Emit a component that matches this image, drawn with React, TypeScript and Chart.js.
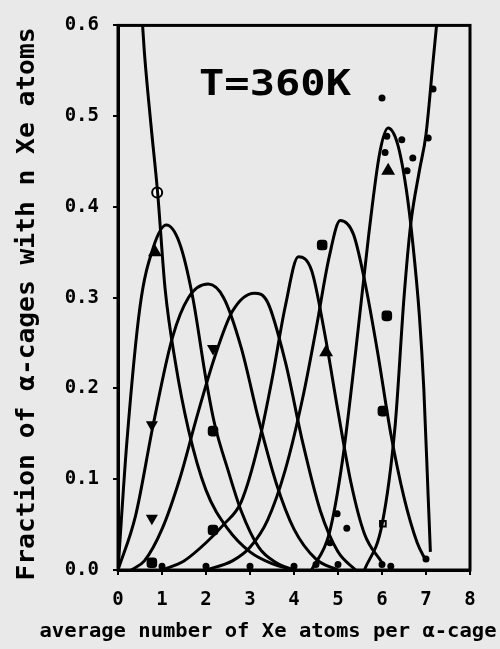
import React, { useEffect, useRef } from "react";
import { Chart, registerables } from "chart.js";
Chart.register(...registerables);

// ---- data ----
const titleText = "T=360K";
const yTitle = "Fraction of \u03b1-cages with n Xe atoms";
const xTitle = "average number of Xe atoms per \u03b1-cage";
const xTicks = [0, 1, 2, 3, 4, 5, 6, 7, 8];
const yTicks = [0.0, 0.1, 0.2, 0.3, 0.4, 0.5, 0.6];

const n0X = [0.45, 0.6, 0.75, 0.9, 1.07, 1.3, 1.6, 2.0, 2.5, 3.0, 3.5, 4.0];
const n0Y = [0.68, 0.57, 0.49, 0.416, 0.31, 0.23, 0.155, 0.088, 0.045, 0.02, 0.007, 0.0];
const n1X = [0, 0.2, 0.5, 0.8, 1.1, 1.4, 1.7, 2.0, 2.2, 2.5, 2.8, 3.2, 3.6, 4.0];
const n1Y = [0, 0.14, 0.29, 0.355, 0.38, 0.36, 0.3, 0.21, 0.16, 0.11, 0.065, 0.025, 0.008, 0];
const n2X = [0, 0.4, 0.8, 1.23, 1.6, 2.05, 2.4, 2.8, 3.2, 3.6, 4.0, 4.5, 5.0];
const n2Y = [0, 0.06, 0.16, 0.255, 0.3, 0.315, 0.3, 0.245, 0.165, 0.095, 0.045, 0.012, 0];
const n3X = [0.3, 0.6, 1.0, 1.4, 1.8, 2.2, 2.6, 3.1, 3.4, 3.8, 4.2, 4.6, 5.0, 5.4];
const n3Y = [0, 0.01, 0.045, 0.1, 0.17, 0.235, 0.285, 0.305, 0.295, 0.23, 0.14, 0.065, 0.02, 0];
const n4X = [1.0, 1.5, 2.0, 2.4, 2.8, 3.2, 3.5, 3.8, 4.1, 4.4, 4.7, 5.0, 5.3, 5.6, 6.0];
const n4Y = [0, 0.01, 0.03, 0.05, 0.075, 0.14, 0.21, 0.29, 0.345, 0.33, 0.26, 0.175, 0.095, 0.04, 0.008];
const n5X = [2.0, 2.6, 3.0, 3.4, 3.8, 4.2, 4.5, 4.8, 5.05, 5.35, 5.6, 5.9, 6.2, 6.5, 6.8, 7.0];
const n5Y = [0, 0.01, 0.025, 0.055, 0.11, 0.19, 0.265, 0.345, 0.385, 0.37, 0.32, 0.24, 0.15, 0.08, 0.03, 0.01];
const n6X = [4.4, 4.8, 5.1, 5.4, 5.7, 5.95, 6.14, 6.35, 6.55, 6.7, 6.85, 6.95, 7.05, 7.1];
const n6Y = [0, 0.04, 0.12, 0.24, 0.37, 0.46, 0.487, 0.47, 0.42, 0.36, 0.28, 0.2, 0.08, 0.02];
const n7X = [5.6, 6.0, 6.3, 6.5, 6.65, 6.85, 7.0, 7.16, 7.3];
const n7Y = [0, 0.05, 0.16, 0.3, 0.38, 0.44, 0.48, 0.56, 0.63];

const openCircleX = [0.89];
const openCircleY = [0.416];
const triX = [0.84, 6.14, 4.73];
const triY = [0.35, 0.44, 0.24];
const invTriX = [0.77, 2.16, 0.77];
const invTriY = [0.16, 0.244, 0.057];
const blobX = [2.16, 4.64, 6.11, 6.02, 2.16, 0.77];
const blobY = [0.153, 0.358, 0.28, 0.175, 0.044, 0.008];
const openSquareX = [6.02];
const openSquareY = [0.051];
const dotX = [6.0, 6.11, 6.45, 6.07, 6.7, 6.57, 7.16, 7.05, 5.2, 4.98, 4.82, 1.0, 2.0, 3.0, 4.0, 4.5, 5.0, 6.0, 6.2, 7.0];
const dotY = [0.52, 0.478, 0.474, 0.46, 0.454, 0.44, 0.53, 0.476, 0.046, 0.062, 0.03, 0.004, 0.004, 0.004, 0.004, 0.006, 0.006, 0.006, 0.004, 0.012];

const zip = (xs: number[], ys: number[]) => xs.map((x, i) => ({ x, y: ys[i] }));

const curves = [
  [n0X, n0Y], [n1X, n1Y], [n2X, n2Y], [n3X, n3Y],
  [n4X, n4Y], [n5X, n5Y], [n6X, n6Y], [n7X, n7Y],
];

const FONT = '"DejaVu Sans Mono", monospace';

const decorPlugin = {
  id: "decor",
  afterDraw(chart: any) {
    const { ctx, chartArea: a } = chart;
    ctx.save();
    ctx.strokeStyle = "#000";
    ctx.lineWidth = 3;
    ctx.strokeRect(a.left, a.top, a.right - a.left, a.bottom - a.top);

    const fitText = (text: string, font: string, cx: number, cy: number, w: number, rot: number) => {
      ctx.save();
      ctx.font = font;
      ctx.fillStyle = "#000";
      ctx.textAlign = "center";
      ctx.textBaseline = "middle";
      const m = ctx.measureText(text).width;
      ctx.translate(cx, cy);
      ctx.rotate(rot);
      ctx.scale(w / m, 1);
      ctx.fillText(text, 0, 0);
      ctx.restore();
    };
    fitText(titleText, `bold 35px ${FONT}`, 275, 86, 152, 0);
    fitText(yTitle, `bold 24px ${FONT}`, 28, 304, 553, -Math.PI / 2);
    fitText(xTitle, `bold 20px ${FONT}`, 268, 632, 457, 0);
    ctx.restore();
  },
};

export default function App() {
  const ref = useRef<HTMLCanvasElement | null>(null);
  useEffect(() => {
    document.body.style.margin = "0";
    const lineSets = curves.map(([xs, ys], i) => ({
      type: "line" as const,
      label: `n=${i}`,
      data: zip(xs, ys),
      borderColor: "#000",
      borderWidth: 3,
      pointRadius: 0,
      fill: false,
      cubicInterpolationMode: "monotone" as const,
    }));
    const mk = (label: string, xs: number[], ys: number[], style: string, r: number, filled: boolean, rot = 0) => ({
      type: "scatter" as const,
      label,
      data: zip(xs, ys),
      pointStyle: style,
      pointRadius: r,
      rotation: rot,
      borderColor: "#000",
      borderWidth: 2,
      backgroundColor: filled ? "#000" : "#fff",
    });
    const chart = new Chart(ref.current!, {
      type: "line",
      data: {
        datasets: [
          ...lineSets,
          mk("circle", openCircleX, openCircleY, "circle", 5, false),
          mk("tri", triX, triY, "triangle", 6, true),
          mk("invtri", invTriX, invTriY, "triangle", 5, true, 180),
          mk("blob", blobX, blobY, "rectRounded", 5, true),
          mk("osq", openSquareX, openSquareY, "rect", 4, false),
          mk("dot", dotX, dotY, "circle", 2.5, true),
        ] as any,
      },
      options: {
        animation: false,
        responsive: false,
        layout: { padding: { top: 22, right: 30, left: 0, bottom: 0 } },
        plugins: { legend: { display: false }, tooltip: { enabled: false } },
        scales: {
          x: {
            type: "linear",
            min: 0,
            max: 8,
            afterFit: (s: any) => { s.height = 79; },
            afterBuildTicks: (s: any) => { s.ticks = xTicks.map((v) => ({ value: v })); },
            ticks: {
              color: "#000",
              font: { family: FONT, size: 19, weight: "bold" },
              padding: 14,
              callback: (v: any) => String(v),
            },
            grid: { drawOnChartArea: false, drawTicks: true, tickLength: 5, color: "#000", lineWidth: 2 },
            border: { display: true, color: "#000", width: 3 },
          },
          y: {
            type: "linear",
            min: 0,
            max: 0.6,
            afterFit: (s: any) => { s.width = 118; },
            afterBuildTicks: (s: any) => { s.ticks = yTicks.map((v) => ({ value: v })); },
            ticks: {
              color: "#000",
              font: { family: FONT, size: 19, weight: "bold" },
              padding: 14,
              callback: (v: any) => Number(v).toFixed(1),
            },
            grid: { drawOnChartArea: false, drawTicks: true, tickLength: 5, color: "#000", lineWidth: 2 },
            border: { display: true, color: "#000", width: 3 },
          },
        },
      },
      plugins: [decorPlugin],
    });
    return () => chart.destroy();
  }, []);
  return (
    <div style={{ position: "absolute", left: 0, top: 0, width: 500, height: 649, background: "#e9e9e9" }}>
      <canvas ref={ref} width={500} height={649} style={{ display: "block", width: 500, height: 649 }} />
    </div>
  );
}
